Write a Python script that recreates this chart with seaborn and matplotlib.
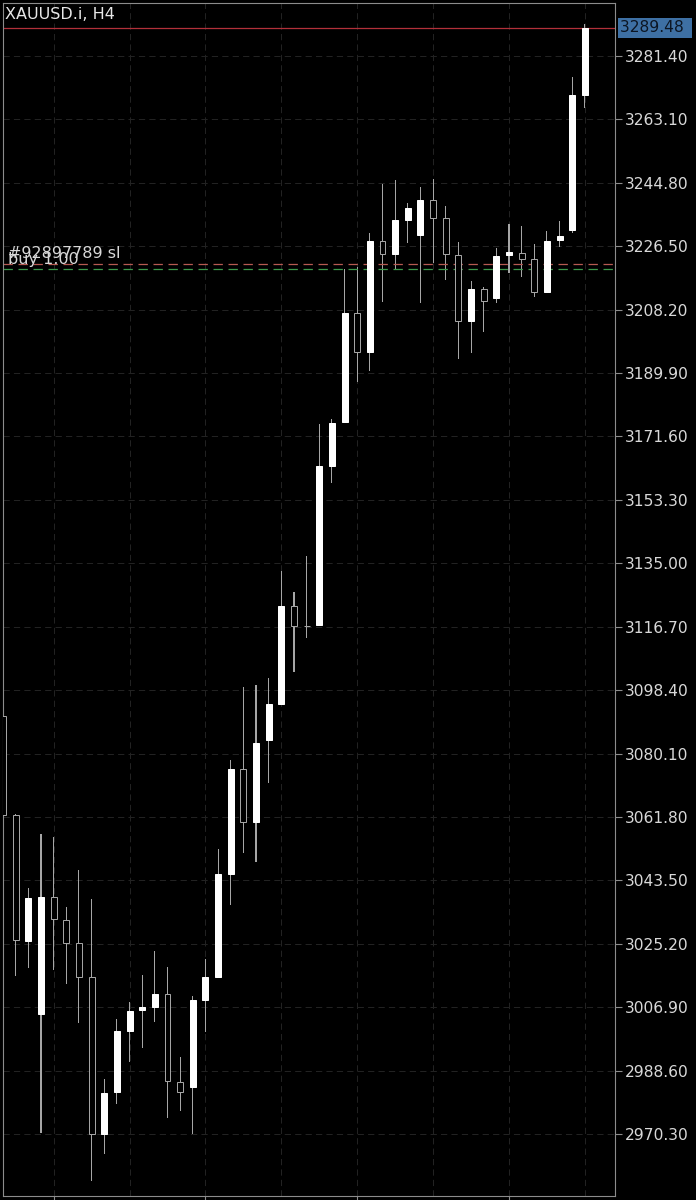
import numpy as np
import pandas as pd
import matplotlib
matplotlib.use("Agg")
import matplotlib.pyplot as plt
import seaborn as sns

# ---------------- data ----------------
symbol = "XAUUSD.i, H4"
opens = [3090.92, 3062.35, 3025.99, 3004.83, 3038.60, 3032.05, 3025.50, 3015.69, 2970.29, 2982.41,
         3000.10, 3005.99, 3007.03, 3010.61, 2985.38, 2983.77, 3008.96, 3015.69, 3045.24, 3075.54,
         3060.42, 3084.00, 3094.39, 3122.67, 3117.00, 3117.10, 3163.07, 3175.86, 3207.32, 3196.06,
         3228.01, 3224.17, 3234.07, 3229.74, 3239.84, 3234.56, 3223.97, 3204.92, 3214.07, 3211.47,
         3223.97, 3224.63, 3222.73, 3213.20, 3228.30, 3231.18, 3270.14]
highs = [3092.00, 3062.60, 3041.20, 3056.87, 3056.09, 3035.71, 3046.48, 3038.11, 2986.16, 3003.39,
         3008.47, 3016.18, 3022.96, 3018.40, 2992.60, 3010.12, 3020.79, 3052.54, 3078.23, 3099.38,
         3099.87, 3101.80, 3132.77, 3126.62, 3137.10, 3175.20, 3176.55, 3219.84, 3220.42, 3230.40,
         3244.46, 3245.61, 3239.06, 3243.68, 3245.82, 3238.11, 3227.81, 3216.55, 3214.82, 3225.90,
         3232.83, 3232.34, 3227.14, 3230.89, 3233.78, 3275.25, 3290.64]
lows = [3061.50, 3015.89, 3018.28, 2970.66, 3017.62, 3013.58, 3002.24, 2956.72, 2964.43, 2978.86,
        2990.98, 2995.20, 3002.70, 2974.82, 2976.93, 2970.20, 2999.81, 3015.20, 3036.38, 3051.47,
        3048.87, 3071.67, 3094.20, 3103.71, 3113.52, 3116.90, 3158.08, 3175.70, 3187.40, 3190.49,
        3210.32, 3219.84, 3227.52, 3210.03, 3221.57, 3216.75, 3193.87, 3195.60, 3201.66, 3210.20,
        3218.86, 3217.53, 3211.76, 3213.00, 3226.19, 3230.23, 3266.31]
closes = [3062.35, 3026.28, 3038.31, 3038.60, 3032.25, 3025.50, 3015.69, 2970.29, 2982.03, 3000.10,
          3005.87, 3007.03, 3010.61, 2985.67, 2982.32, 3008.96, 3015.69, 3045.24, 3075.54, 3060.42,
          3083.22, 3094.39, 3122.67, 3116.90, 3116.90, 3163.07, 3175.40, 3207.32, 3196.06, 3228.01,
          3224.17, 3234.07, 3237.62, 3239.84, 3234.56, 3224.17, 3204.92, 3214.07, 3210.78, 3223.77,
          3224.75, 3222.81, 3213.20, 3228.10, 3229.45, 3270.14, 3289.48]
price_ticks = [2970.30, 2988.60, 3006.90, 3025.20, 3043.50, 3061.80, 3080.10, 3098.40, 3116.70,
               3135.00, 3153.30, 3171.60, 3189.90, 3208.20, 3226.50, 3244.80, 3263.10, 3281.40]
last_price = 3289.48
sl_price = 3221.37
entry_price = 3219.79
sl_label = "#92897789 sl"
entry_label = "buy 1.00"
day_bars = [4, 16, 28, 40]
half_day_bars = [10, 22, 34, 46]

# ---------------- frame ----------------
df = pd.DataFrame({"bar": np.arange(len(opens)), "open": opens, "high": highs,
                   "low": lows, "close": closes})
df["body_low"] = df[["open", "close"]].min(axis=1)
df["body_size"] = (df["close"] - df["open"]).abs().clip(lower=0.08)
df["span"] = df["high"] - df["low"]
bull = df[df["close"] >= df["open"]]
bear = df[df["close"] < df["open"]]

FRAME = "#8c8c8c"
GRID = "#222222"
WICK = "#a6a6a6"
HOLLOW = "#a4a4a4"
LABEL = "#d8d8d8"

sns.set_theme(style="dark", rc={"axes.facecolor": "black", "figure.facecolor": "black"})
plt.rcParams["font.family"] = ["DejaVu Sans"]

fig = plt.figure(figsize=(6.96, 12), dpi=100)
fig.patch.set_facecolor("black")
ax = fig.add_axes([3.3 / 696, 4 / 1200, 611.7 / 696, 1192.7 / 1200])
ax.set_facecolor("black")

px = 72 / 100  # one pixel in points

# wicks
sns.barplot(data=df, x="bar", y="span", bottom=df["low"].to_numpy(), native_scale=True,
            width=0.085, errorbar=None, color=WICK, saturation=1, facecolor=WICK,
            edgecolor="none", linewidth=0, ax=ax, zorder=2)
# bearish (hollow) bodies
sns.barplot(data=bear, x="bar", y="body_size", bottom=bear["body_low"].to_numpy(),
            native_scale=True, width=0.47, errorbar=None, color="black", saturation=1,
            facecolor="black", edgecolor=HOLLOW, linewidth=px, ax=ax, zorder=3)
# bullish (filled) bodies
sns.barplot(data=bull, x="bar", y="body_size", bottom=bull["body_low"].to_numpy(),
            native_scale=True, width=0.47, errorbar=None, color="white", saturation=1,
            facecolor="white", edgecolor="white", linewidth=px, ax=ax, zorder=3)

ax.set_xlim(0.02, 48.38)
ax.set_ylim(2952.4, 3296.6)
ax.set_xlabel("")
ax.set_ylabel("")

# ticks
ax.yaxis.tick_right()
ax.set_yticks(price_ticks, labels=[f"{v:.2f}" for v in price_ticks])
ax.set_xticks(day_bars, labels=[""] * len(day_bars))
ax.set_xticks(half_day_bars, minor=True)
ax.tick_params(axis="y", which="major", right=True, left=False, length=5, width=0.8,
               color=FRAME, labelcolor=LABEL, labelsize=11.2, pad=2)
ax.tick_params(axis="x", which="major", bottom=True, length=4, width=0.8, color=FRAME,
               labelbottom=False)
ax.tick_params(axis="x", which="minor", bottom=False, length=0)

# grid
ax.grid(False)
ax.grid(True, axis="y", which="major", color=GRID, linestyle=(0, (6, 4)), linewidth=0.75)
ax.grid(True, axis="x", which="both", color=GRID, linestyle=(0, (6, 4)), linewidth=0.75)
ax.set_axisbelow(True)

for s in ax.spines.values():
    s.set_visible(True)
    s.set_color(FRAME)
    s.set_linewidth(0.8)

# price / order lines
ax.axhline(last_price, color="#b2303a", lw=0.9, zorder=2.5)
ax.axhline(sl_price, color="#b65a52", lw=0.9, ls=(0, (7.5, 4.5)), zorder=2.5)
ax.axhline(entry_price, color="#3d9a4c", lw=0.9, ls=(0, (7.5, 4.5)), zorder=2.5)

ytr = ax.get_yaxis_transform()
ax.annotate(sl_label, xy=(0, sl_price), xycoords=ytr, xytext=(3.4, 4.5),
            textcoords="offset points", va="baseline", ha="left", fontsize=11.5,
            color="#d8d8d8", zorder=5)
ax.annotate(entry_label, xy=(0, entry_price), xycoords=ytr, xytext=(3.4, 3.6),
            textcoords="offset points", va="baseline", ha="left", fontsize=11.5,
            color="#d8d8d8", zorder=5)

ax.annotate(symbol, xy=(0, 1), xycoords="axes fraction", xytext=(1.5, -2.7),
            textcoords="offset points", va="top", ha="left", fontsize=11.5,
            color="#e8e8e8")

ax.annotate(f"{last_price:.2f}\u2009\u2009", xy=(1, last_price), xycoords=ytr, xytext=(3.5, 0),
            textcoords="offset points", va="center", ha="left", fontsize=11.2,
            color="#0c1624", annotation_clip=False,
            bbox=dict(boxstyle="square,pad=0.14", fc="#3e70a4", ec="none"))

fig.savefig("out.png", dpi=100, facecolor="black")
